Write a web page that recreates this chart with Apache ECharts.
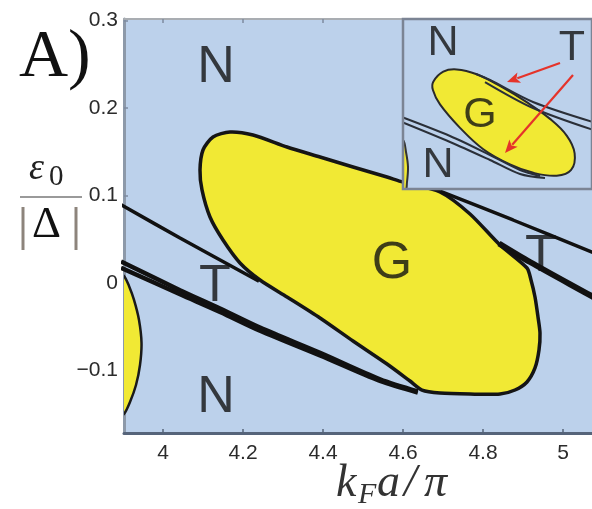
<!DOCTYPE html>
<html>
<head>
<meta charset="utf-8">
<script src="https://cdn.jsdelivr.net/npm/echarts@6/dist/echarts.min.js"></script>
<style>html,body{margin:0;padding:0;background:#fff;}#c{width:592px;height:509px;}</style>
</head>
<body>
<div id="c"></div>
<script>
// ---- main panel data (x = k_F a / pi, y = eps0/|Delta|) ----
const xTicks = [4, 4.2, 4.4, 4.6, 4.8, 5];
const yTicks = [-0.1, 0, 0.1, 0.2, 0.3];

const gappedRegion = [
  [4.0925,0.1291],[4.1000,0.1520],[4.1250,0.1669],[4.1675,0.1726],[4.2250,0.1691],
  [4.3100,0.1554],[4.3925,0.1440],[4.4750,0.1326],[4.5600,0.1211],[4.6000,0.1154],
  [4.6925,0.1040],[4.7675,0.0789],[4.8425,0.0434],[4.9100,0.0171],[4.9200,0.0034],
  [4.9300,-0.0160],[4.9375,-0.0389],[4.9425,-0.0571],[4.9400,-0.0766],[4.9300,-0.0971],
  [4.9100,-0.1131],[4.8800,-0.1223],[4.8425,-0.1269],[4.7675,-0.1269],[4.6925,-0.1257],
  [4.6475,-0.1223],[4.6175,-0.1120],[4.5600,-0.0926],[4.4750,-0.0663],[4.3925,-0.0400],
  [4.3100,-0.0160],[4.2425,0.0034],[4.1925,0.0229],[4.1500,0.0491],[4.1175,0.0754],
  [4.0975,0.1063]
];
const leftGapped = [
  [3.8925,0.008],[3.9025,0.008],[3.915,-0.0034],[3.9275,-0.0194],[3.94,-0.0423],
  [3.9463,-0.0686],[3.9425,-0.0937],[3.9325,-0.1166],[3.9175,-0.136],[3.9025,-0.1497],
  [3.8925,-0.1497]
];
const lineA = [[3.895,0.0895],[4.0425,0.0514],[4.24,0.0020]];
const lineB1 = [[3.895,0.0245],[4.0425,-0.0082],[4.1425,-0.0292],[4.2425,-0.0510],[4.3925,-0.0798],[4.5425,-0.1100],[4.637,-0.1238]];
const lineB2 = [[3.895,0.0175],[4.0425,-0.0128],[4.1425,-0.0330],[4.2425,-0.0545],[4.3925,-0.0828],[4.5425,-0.1120],[4.637,-0.1252]];
const lineC = [[4.6925,0.1051],[4.875,0.072],[5.08,0.0340]];
const lineD = [[4.84,0.0452],[4.9175,0.024],[5.08,-0.0170]];
const mainLabels = [
  ['N',4.1325,0.2457],['N',4.1325,-0.1314],['T',4.13,-0.0046],['G',4.5725,0.0217],['T',4.945,0.0297]
];

// ---- inset data (own unit axes) ----
const insetEllipse = [
  [1.603,5.680],[2.132,6.210],[2.841,6.330],[3.899,6.075],[5.132,5.456],[6.545,4.597],
  [7.778,3.713],[8.661,2.829],[9.081,1.890],[8.896,1.006],[8.132,0.701],[6.894,0.856],
  [5.661,1.301],[4.249,2.105],[3.016,3.238],[1.958,4.477],[1.583,5.241]
];
const insetLeftBlob = [[-0.5,2.594],[0,2.594],[0.159,1.959],[0.265,1.165],[0.212,0.371],[0.106,-0.2],[-0.5,-0.2]];
const insetL1 = [[3.862,6.088],[4.603,5.770],[6.878,4.606],[10.2,3.50]];
const insetL2 = [[4.339,5.664],[6.878,4.288],[10.2,3.08]];
const insetL3 = [[-0.2,3.86],[2.487,2.806],[4.603,1.800],[6.190,1.006],[7.249,0.688]];
const insetL4 = [[-0.2,3.60],[2.487,2.488],[4.603,1.535],[6.190,0.794],[7.513,0.582]];
const insetArrows = [[8.307,6.670,5.503,5.664],[8.995,6.035,5.397,1.906]];
const insetLabels = [['N',2.116,7.73],['T',8.94,7.45],['G',4.074,3.90],['N',1.852,1.27]];

const BLUE = '#bcd1eb';
const YELLOW = '#f1e934';

function polygonRender(points, fill, stroke, lw, smooth) {
  return function (params, api) {
    return {
      type: 'polygon',
      shape: { points: points.map(p => api.coord(p)), smooth: smooth },
      style: { fill: fill, stroke: stroke, lineWidth: lw }
    };
  };
}
function lineSeries(data, width, xi, yi, z, color) {
  return {
    type: 'line', data: data, xAxisIndex: xi, yAxisIndex: yi, z: z,
    showSymbol: false, symbol: 'none', smooth: 0.3, clip: true, silent: true,
    lineStyle: { color: color || '#111', width: width }
  };
}
function arrowRender(params, api) {
  const p1 = api.coord([api.value(0), api.value(1)]);
  const p2 = api.coord([api.value(2), api.value(3)]);
  const dx = p2[0] - p1[0], dy = p2[1] - p1[1];
  const len = Math.sqrt(dx * dx + dy * dy);
  const ux = dx / len, uy = dy / len;
  const hl = 13, hw = 5.5;
  const bx = p2[0] - ux * hl, by = p2[1] - uy * hl;
  return {
    type: 'group',
    children: [
      { type: 'line', shape: { x1: p1[0], y1: p1[1], x2: bx + ux * 2, y2: by + uy * 2 },
        style: { stroke: '#e5332a', lineWidth: 2.2 } },
      { type: 'polygon', shape: { points: [p2, [bx - uy * hw, by + ux * hw], [bx + ux * 3, by + uy * 3], [bx + uy * hw, by - ux * hw]] },
        style: { fill: '#e5332a' } }
    ]
  };
}

const chart = echarts.init(document.getElementById('c'), null, { renderer: 'canvas' });
const fontSans = 'Liberation Sans';

const option = {
  animation: false,
  backgroundColor: '#fff',
  grid: [
    { left: 124, top: 19, width: 468, height: 414, show: true, backgroundColor: BLUE, borderWidth: 0 },
    { left: 403, top: 19, width: 189, height: 170, show: false }
  ],
  xAxis: [
    { type: 'value', gridIndex: 0, min: 3.9025, max: 5.0725, position: 'bottom',
      splitLine: { show: false },
      axisLine: { show: true, onZero: false, lineStyle: { color: '#56647a', width: 3 } },
      axisTick: { show: true, inside: true, length: 4, lineStyle: { color: '#56647a', width: 1.5 }, customValues: xTicks },
      axisLabel: { show: true, customValues: xTicks, margin: 10, color: '#2b2b2b', fontFamily: fontSans, fontSize: 21,
        formatter: v => String(v) } },
    { type: 'value', gridIndex: 0, min: 3.9025, max: 5.0725, position: 'top',
      splitLine: { show: false },
      axisLine: { show: true, onZero: false, lineStyle: { color: '#a9adb2', width: 2 } },
      axisTick: { show: true, inside: true, length: 4, lineStyle: { color: '#7d8aa0', width: 1.5 }, customValues: xTicks },
      axisLabel: { show: false } },
    { type: 'value', gridIndex: 1, min: 0, max: 10, show: false }
  ],
  yAxis: [
    { type: 'value', gridIndex: 0, min: -0.17143, max: 0.30171,
      splitLine: { show: false },
      axisLine: { show: true, onZero: false, lineStyle: { color: '#8d99a9', width: 3 } },
      axisTick: { show: true, inside: true, length: 4, lineStyle: { color: '#7d8aa0', width: 1.5 }, customValues: yTicks },
      axisLabel: { show: true, customValues: yTicks, margin: 6, color: '#2b2b2b', fontFamily: fontSans, fontSize: 21,
        formatter: v => (v < 0 ? '\u2212' + String(Math.abs(v)) : String(v)) } },
    { type: 'value', gridIndex: 1, min: 0, max: 9, show: false }
  ],
  series: [
    { type: 'custom', coordinateSystem: 'cartesian2d', xAxisIndex: 0, yAxisIndex: 0, clip: true, z: 2, silent: true,
      data: [leftGapped[0]], renderItem: polygonRender(leftGapped, YELLOW, '#1a1a1a', 2.5, 0.3) },
    lineSeries(lineA, 3.5, 0, 0, 2),
    { type: 'custom', coordinateSystem: 'cartesian2d', xAxisIndex: 0, yAxisIndex: 0, clip: true, z: 2, silent: true,
      data: [gappedRegion[0]], renderItem: polygonRender(gappedRegion, YELLOW, '#151515', 3.5, 0.25) },
    lineSeries(lineB1, 4.5, 0, 0, 3),
    lineSeries(lineB2, 4.5, 0, 0, 3),
    lineSeries(lineC, 3.5, 0, 0, 3),
    lineSeries(lineD, 6, 0, 0, 3),
    { type: 'scatter', xAxisIndex: 0, yAxisIndex: 0, z: 4, symbolSize: 0, silent: true,
      data: mainLabels.map(l => ({ name: l[0], value: [l[1], l[2]] })),
      label: { show: true, position: 'inside', formatter: '{b}', color: '#111', fontFamily: fontSans, fontSize: 52 } },
    // inset
    { type: 'custom', coordinateSystem: 'cartesian2d', xAxisIndex: 2, yAxisIndex: 1, z: 5, silent: true,
      data: [[0, 0]],
      renderItem: function (params, api) {
        const cs = params.coordSys;
        return { type: 'rect', shape: { x: cs.x, y: cs.y, width: cs.width, height: cs.height },
          style: { fill: BLUE, stroke: 'none' } };
      } },
    { type: 'custom', coordinateSystem: 'cartesian2d', xAxisIndex: 2, yAxisIndex: 1, clip: true, z: 6, silent: true,
      data: [insetLeftBlob[0]], renderItem: polygonRender(insetLeftBlob, YELLOW, '#333', 2, 0.3) },
    { type: 'custom', coordinateSystem: 'cartesian2d', xAxisIndex: 2, yAxisIndex: 1, clip: true, z: 6, silent: true,
      data: [insetEllipse[0]], renderItem: polygonRender(insetEllipse, YELLOW, '#2a2a2a', 2, 0.4) },
    lineSeries(insetL1, 2, 2, 1, 7, '#2a2f38'),
    lineSeries(insetL2, 2, 2, 1, 7, '#2a2f38'),
    lineSeries(insetL3, 2, 2, 1, 7, '#2a2f38'),
    lineSeries(insetL4, 2, 2, 1, 7, '#2a2f38'),
    { type: 'scatter', xAxisIndex: 2, yAxisIndex: 1, z: 8, symbolSize: 0, silent: true,
      data: insetLabels.map(l => ({ name: l[0], value: [l[1], l[2]] })),
      label: { show: true, position: 'inside', formatter: '{b}', color: '#111', fontFamily: fontSans, fontSize: 43 } },
    { type: 'custom', coordinateSystem: 'cartesian2d', xAxisIndex: 2, yAxisIndex: 1, z: 8, silent: true,
      data: insetArrows, renderItem: arrowRender },
    { type: 'custom', coordinateSystem: 'cartesian2d', xAxisIndex: 2, yAxisIndex: 1, z: 9, silent: true,
      data: [[0, 0]],
      renderItem: function (params, api) {
        const cs = params.coordSys;
        return { type: 'rect', shape: { x: cs.x, y: cs.y, width: cs.width, height: cs.height },
          style: { fill: 'none', stroke: '#7b8494', lineWidth: 2.5 } };
      } }
  ],
  graphic: [
    { type: 'text', left: 19, top: 24, style: { text: 'A)', font: '68px "Liberation Serif"', fill: '#111' } },
    { type: 'text', x: 29, y: 169, style: { text: '\u03b5', font: 'italic 38px "Liberation Serif"', fill: '#222', verticalAlign: 'middle' } },
    { type: 'text', x: 49, y: 177, style: { text: '0', font: '29px "Liberation Serif"', fill: '#222', verticalAlign: 'middle' } },
    { type: 'line', shape: { x1: 20, y1: 197, x2: 82, y2: 197 }, style: { stroke: '#9a9a9a', lineWidth: 2 } },
    { type: 'line', shape: { x1: 23, y1: 207, x2: 23, y2: 250 }, style: { stroke: '#8d847c', lineWidth: 3 } },
    { type: 'line', shape: { x1: 76, y1: 207, x2: 76, y2: 250 }, style: { stroke: '#8d847c', lineWidth: 3 } },
    { type: 'text', x: 32, y: 225, style: { text: '\u0394', font: '45px "Liberation Serif"', fill: '#111', verticalAlign: 'middle' } },
    { type: 'text', x: 336, y: 484, style: { text: 'k', font: 'italic 46px "Liberation Serif"', fill: '#333', verticalAlign: 'middle' } },
    { type: 'text', x: 358, y: 495, style: { text: 'F', font: 'italic 30px "Liberation Serif"', fill: '#333', verticalAlign: 'middle' } },
    { type: 'text', x: 377, y: 484, style: { text: 'a', font: 'italic 46px "Liberation Serif"', fill: '#333', verticalAlign: 'middle' } },
    { type: 'text', x: 404, y: 484, style: { text: '/', font: 'italic 46px "Liberation Serif"', fill: '#333', verticalAlign: 'middle' } },
    { type: 'text', x: 424, y: 484, style: { text: '\u03c0', font: 'italic 46px "Liberation Serif"', fill: '#333', verticalAlign: 'middle' } }
  ]
};
chart.setOption(option);
</script>
</body>
</html>
